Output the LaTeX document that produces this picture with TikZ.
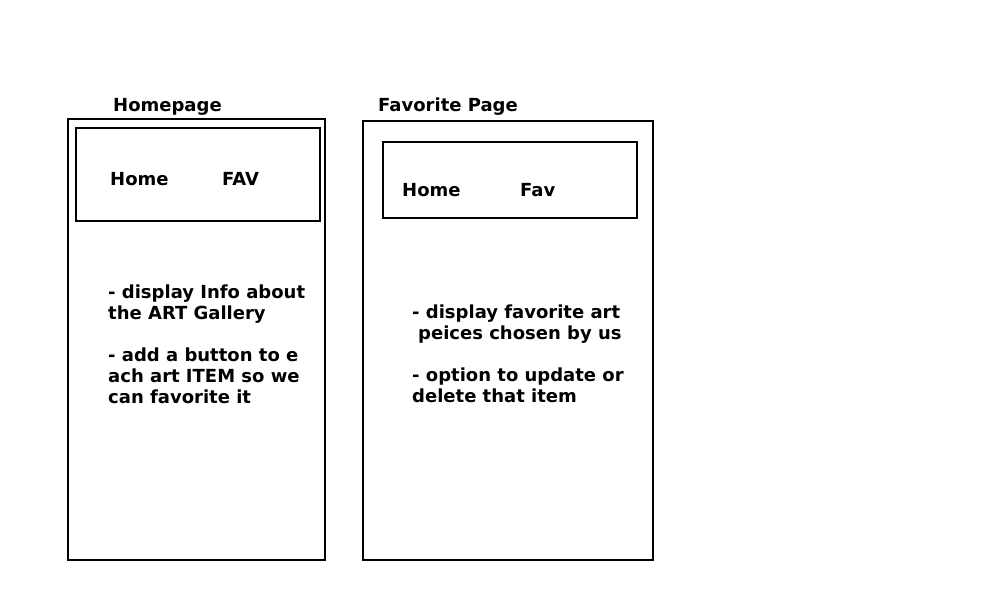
\documentclass[tikz,border=0pt]{standalone}
\usepackage{fontspec}
\setmainfont{DejaVu Sans}
\begin{document}
\begin{tikzpicture}[x=1pt,y=-1pt,
  frame/.style={draw=black,line width=1.6pt},
  label/.style={font=\fontsize{18}{21}\selectfont\bfseries,inner sep=0pt,anchor=west},
  body/.style={font=\fontsize{18}{21}\selectfont\bfseries,inner sep=0pt,anchor=north west,align=left}]
\useasboundingbox[fill=white] (0,0) rectangle (997,602);
% Homepage sketch
\draw[frame] (68,119) rectangle (325,560);
\draw[frame] (76,128) rectangle (320,221);
\node[label] (hptitle) at (113,107) {Homepage};
\node[label] (hphome) at (110,179) {Home};
\node[label] (hpfav) at (222,179) {FAV};
\node[body] (hpbody) at (108,285) {- display Info about\\the ART Gallery\\[21pt]- add a button to e\\ach art ITEM so we\\can favorite it};
% Favorite page sketch
\draw[frame] (363,121) rectangle (653,560);
\draw[frame] (383,142) rectangle (637,218);
\node[label] (fptitle) at (378,107) {Favorite Page};
\node[label] (fphome) at (402,190) {Home};
\node[label] (fpfav) at (520,190) {Fav};
\node[body] (fpbody) at (412,305) {- display favorite art\\\hspace{6pt}peices chosen by us\\[21pt]- option to update or\\delete that item};
\end{tikzpicture}
\end{document}
